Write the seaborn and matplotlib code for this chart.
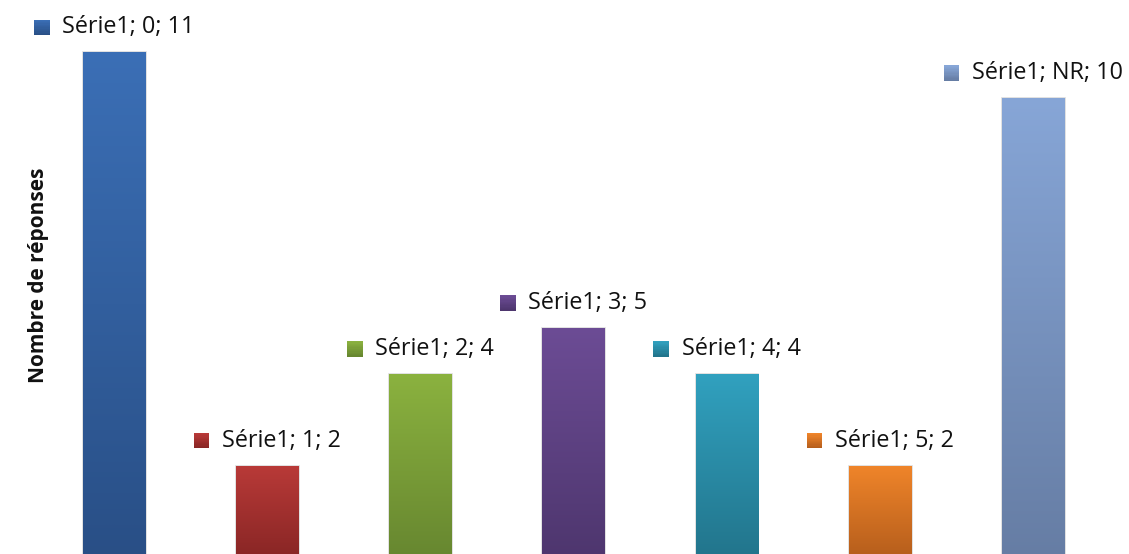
import numpy as np
import matplotlib
matplotlib.use("Agg")
import matplotlib.pyplot as plt
import seaborn as sns
from matplotlib.offsetbox import AnnotationBbox, HPacker, TextArea, DrawingArea
from matplotlib.patches import Rectangle
from matplotlib.colors import to_rgb

categories = ["0", "1", "2", "3", "4", "5", "NR"]
values = [11, 2, 4, 5, 4, 2, 10]
series_name = "Série1"
y_label = "Nombre de réponses"
top_colors = ["#3B6FB6", "#B93A38", "#8BB23F", "#6C4C95", "#31A1BF", "#F0852A", "#87A6D7"]
bottom_colors = ["#294F86", "#892625", "#678730", "#4E366E", "#22758C", "#B65E1C", "#667DA4"]

sns.set_theme(style="white")
plt.rcParams["font.family"] = ["Open Sans", "DejaVu Sans"]

W, H = 1129, 554
fig = plt.figure(figsize=(W / 100, H / 100), dpi=100)
ax_left, ax_right = 37.6, 1110.0
ax_top, ax_bot = 6.5, 557.5
ax = fig.add_axes([ax_left / W, (H - ax_bot) / H, (ax_right - ax_left) / W, (ax_bot - ax_top) / H])

palette = {c: t for c, t in zip(categories, top_colors)}
sns.barplot(x=categories, y=values, hue=categories, palette=palette, width=0.41,
            legend=False, ax=ax, saturation=1, order=categories, hue_order=categories)

ax.set_xlim(-0.5, len(categories) - 0.5)
ax.set_ylim(0, 12)
ax.axis("off")

patches = sorted([p for p in ax.patches if p.get_height() > 0], key=lambda p: p.get_x())


def gradient_img(c_top, c_bot, n=256):
    t = np.linspace(0, 1, n)[:, None]
    a = np.array(to_rgb(c_top))
    b = np.array(to_rgb(c_bot))
    img = a[None, None, :] * (1 - t[:, :, None]) + b[None, None, :] * t[:, :, None]
    return img


for p, ct, cb in zip(patches, top_colors, bottom_colors):
    x0, y0 = p.get_x(), p.get_y()
    w, h = p.get_width(), p.get_height()
    p.set_facecolor("none")
    p.set_edgecolor((0.6, 0.6, 0.6, 0.35))
    p.set_linewidth(1.2)
    im = ax.imshow(gradient_img(ct, cb), extent=[x0, x0 + w, y0, y0 + h], aspect="auto",
                   origin="upper", zorder=2, interpolation="bilinear")
    im.set_clip_path(p)

ax.set_xlim(-0.5, len(categories) - 0.5)
ax.set_ylim(0, 12)

# data labels with gradient square keys
for i, (cat, v, ct, cb) in enumerate(zip(categories, values, top_colors, bottom_colors)):
    sq = 11.2
    da = DrawingArea(sq, sq, 0, 0)
    n = 12
    a = np.array(to_rgb(ct)); b = np.array(to_rgb(cb))
    for k in range(n):
        t = k / (n - 1)
        col = a * (1 - t) + b * t
        da.add_artist(Rectangle((0, sq - (k + 1) * sq / n), sq, sq / n * 1.05,
                                facecolor=col, edgecolor="none"))
    ta = TextArea(f"{series_name}; {cat}; {v}", textprops=dict(fontsize=16.8, color="#111111"))
    pack = HPacker(children=[da, ta], align="center", pad=0, sep=9)
    ab = AnnotationBbox(pack, (i, v), xybox=(0, 18), xycoords="data", boxcoords="offset points",
                        box_alignment=(0.5, 0.5), frameon=False, pad=0)
    ax.add_artist(ab)

fig.text(39 / W, (H - 275) / H, y_label, rotation=90, ha="center", va="center",
         fontsize=15, fontweight="bold", color="#111111")

fig.savefig("out.png", dpi=100, facecolor="white")
